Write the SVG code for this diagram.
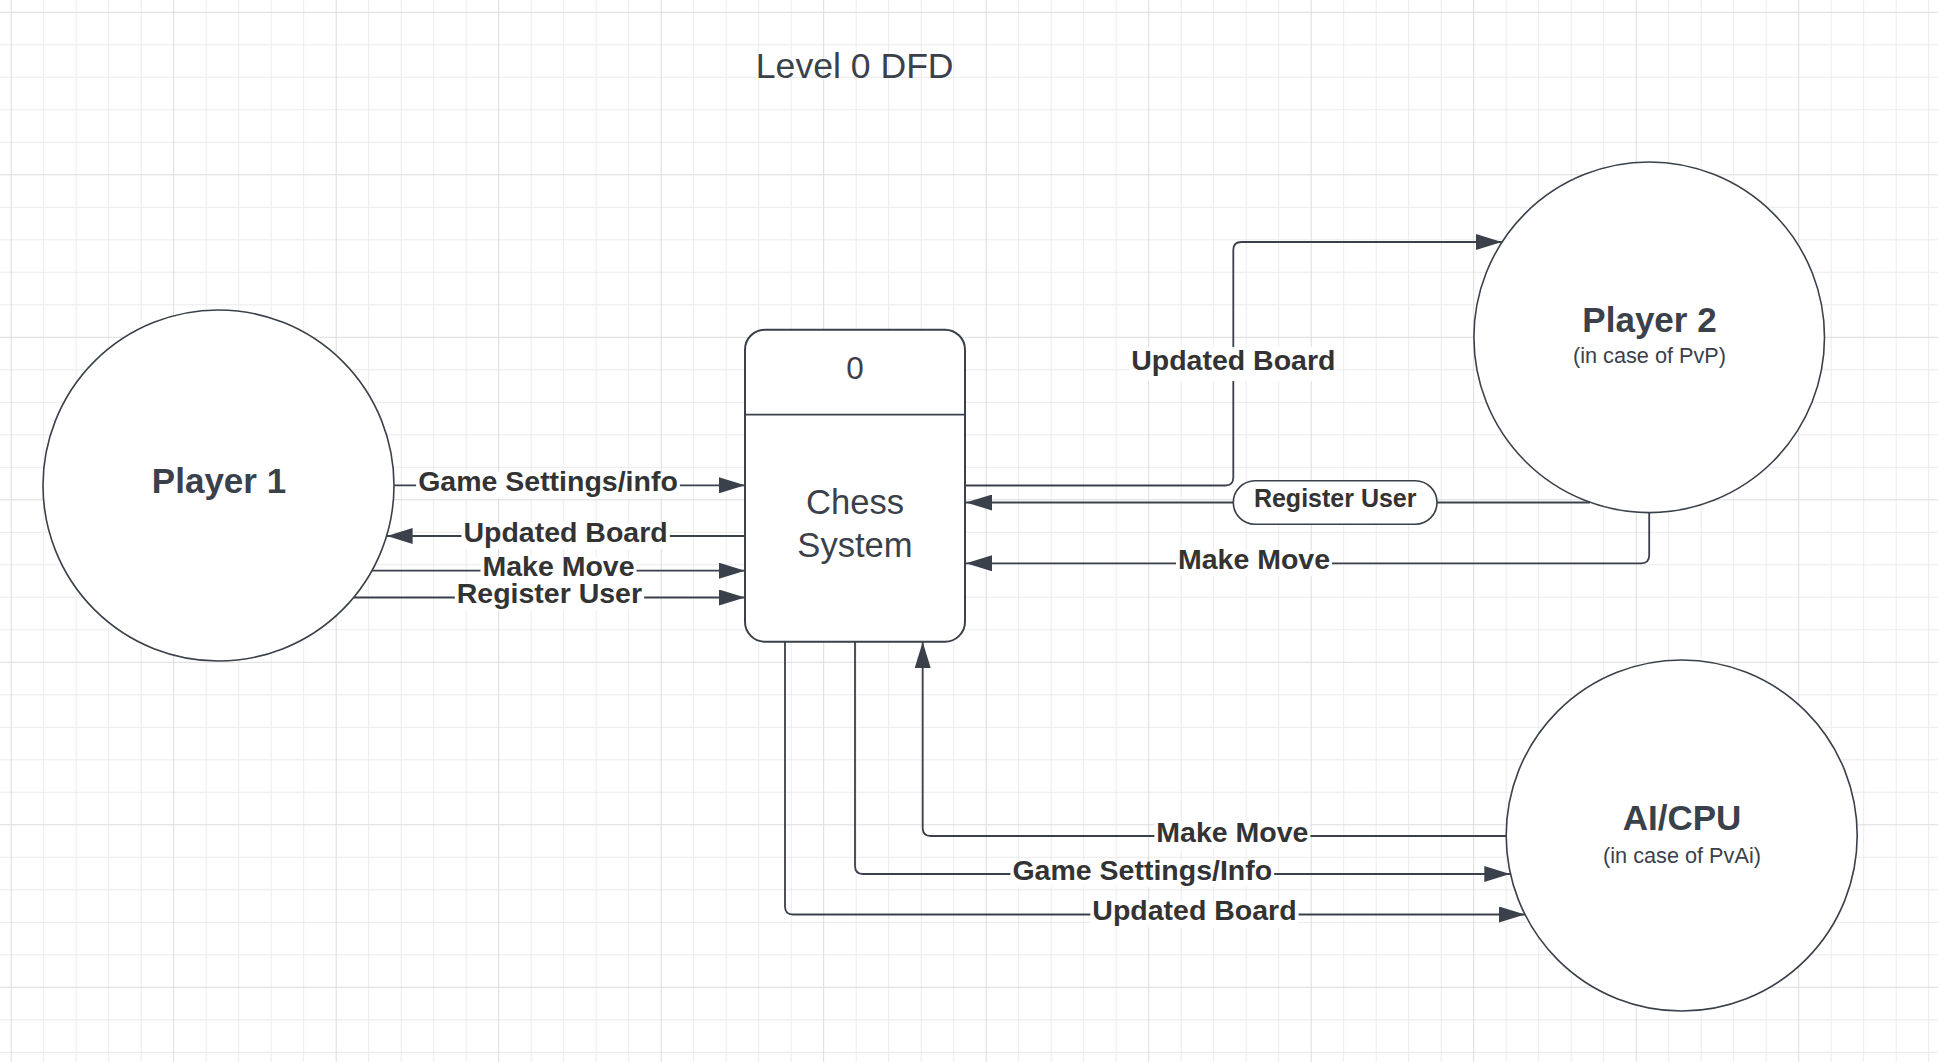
<svg xmlns="http://www.w3.org/2000/svg" width="1938" height="1062" viewBox="0 0 1938 1062">
<defs>
<style>
.minor{stroke:#ececec;stroke-width:1;fill:none}
.major{stroke:#dcdcdc;stroke-width:1;fill:none}
.node{fill:#ffffff;stroke:#3a414a;stroke-width:1.6}
.box{fill:#ffffff;stroke:#3a414a;stroke-width:2}
.conn{fill:none;stroke:#3a414a;stroke-width:1.8;marker-end:url(#arrow)}
.plain{fill:none;stroke:#3a414a;stroke-width:1.8}
.lblbg{fill:#ffffff}
.lbl{font-family:"Liberation Sans",Arial,sans-serif;font-weight:bold;font-size:28.5px;fill:#333333;text-anchor:middle}
.ntitle{font-family:"Liberation Sans",Arial,sans-serif;font-weight:bold;font-size:35px;fill:#3a414a;text-anchor:middle}
.nsub{font-family:"Liberation Sans",Arial,sans-serif;font-size:21.7px;fill:#3a414a;text-anchor:middle}
.ntext{font-family:"Liberation Sans",Arial,sans-serif;font-size:34.6px;fill:#3a414a;text-anchor:middle}
</style>
<marker id="arrow" markerUnits="userSpaceOnUse" markerWidth="26" markerHeight="16" refX="26" refY="8" orient="auto">
<path d="M0,0 L26,8 L0,16 Z" fill="#3a414a"/>
</marker>
</defs>
<rect x="0" y="0" width="1938" height="1062" fill="#ffffff"/>
<g id="grid">
<path class="minor" d="M43.7,0V1062M76.2,0V1062M108.7,0V1062M141.2,0V1062M206.2,0V1062M238.7,0V1062M271.2,0V1062M303.7,0V1062M368.7,0V1062M401.2,0V1062M433.7,0V1062M466.2,0V1062M531.2,0V1062M563.7,0V1062M596.2,0V1062M628.7,0V1062M693.7,0V1062M726.2,0V1062M758.7,0V1062M791.2,0V1062M856.2,0V1062M888.7,0V1062M921.2,0V1062M953.7,0V1062M1018.7,0V1062M1051.2,0V1062M1083.7,0V1062M1116.2,0V1062M1181.2,0V1062M1213.7,0V1062M1246.2,0V1062M1278.7,0V1062M1343.7,0V1062M1376.2,0V1062M1408.7,0V1062M1441.2,0V1062M1506.2,0V1062M1538.7,0V1062M1571.2,0V1062M1603.7,0V1062M1668.7,0V1062M1701.2,0V1062M1733.7,0V1062M1766.2,0V1062M1831.2,0V1062M1863.7,0V1062M1896.2,0V1062M1928.7,0V1062M0,44.8H1938M0,77.3H1938M0,109.8H1938M0,142.3H1938M0,207.3H1938M0,239.8H1938M0,272.3H1938M0,304.8H1938M0,369.8H1938M0,402.3H1938M0,434.8H1938M0,467.3H1938M0,532.3H1938M0,564.8H1938M0,597.3H1938M0,629.8H1938M0,694.8H1938M0,727.3H1938M0,759.8H1938M0,792.3H1938M0,857.3H1938M0,889.8H1938M0,922.3H1938M0,954.8H1938M0,1019.8H1938M0,1052.3H1938"/>
<path class="major" d="M11.2,0V1062M173.7,0V1062M336.2,0V1062M498.7,0V1062M661.2,0V1062M823.7,0V1062M986.2,0V1062M1148.7,0V1062M1311.2,0V1062M1473.7,0V1062M1636.2,0V1062M1798.7,0V1062M0,12.3H1938M0,174.8H1938M0,337.3H1938M0,499.8H1938M0,662.3H1938M0,824.8H1938M0,987.3H1938"/>
</g>
<g id="title">
<text x="854.7" y="77.5" font-family="Liberation Sans, Arial, sans-serif" font-size="35.6" fill="#3a414a" text-anchor="middle">Level 0 DFD</text>
</g>
<g id="connectors">
<path class="conn" d="M394.3,485.3H745"/>
<path class="conn" d="M745,536H386.6"/>
<path class="conn" d="M371.9,570.7H745"/>
<path class="conn" d="M353.6,597.5H745"/>
<path class="conn" d="M965,485.5H1225.3Q1233.3,485.5 1233.3,477.5V250Q1233.3,242 1241.3,242H1501.8"/>
<path class="conn" d="M1590,502.5H966"/>
<path class="conn" d="M1649.2,512.5V555.3Q1649.2,563.3 1641.2,563.3H966"/>
<path class="conn" d="M1506.2,836H930.7Q922.7,836 922.7,828V642"/>
<path class="conn" d="M855,641.7V866Q855,874 863,874H1510.3"/>
<path class="conn" d="M785,641.7V906.5Q785,914.5 793,914.5H1525"/>
<rect class="lblbg" x="416.1" y="472.3" width="263.8" height="26"/>
<text class="lbl" x="548" y="490.8">Game Settings/info</text>
<rect class="lblbg" x="461.5" y="523" width="208.3" height="26"/>
<text class="lbl" x="565.6" y="541.5">Updated Board</text>
<rect class="lblbg" x="480.5" y="557.7" width="156" height="26"/>
<text class="lbl" x="558.5" y="576">Make Move</text>
<rect class="lblbg" x="454.8" y="584.5" width="189.3" height="26"/>
<text class="lbl" x="549.4" y="603.2">Register User</text>
<rect class="lblbg" x="1129.2" y="347" width="208.3" height="34"/>
<text class="lbl" x="1233.3" y="369.5">Updated Board</text>
<rect x="1233.3" y="480.8" width="203.7" height="43.4" rx="21.7" ry="21.7" fill="#ffffff" stroke="#3a414a" stroke-width="1.6"/>
<text class="lbl" x="1335.2" y="507.3" style="font-size:25px">Register User</text>
<rect class="lblbg" x="1176" y="550.3" width="156" height="26"/>
<text class="lbl" x="1254" y="568.8">Make Move</text>
<rect class="lblbg" x="1154.4" y="823" width="156" height="26"/>
<text class="lbl" x="1232.4" y="841.5">Make Move</text>
<rect class="lblbg" x="1010.4" y="861" width="263.8" height="26"/>
<text class="lbl" x="1142.3" y="879.5">Game Settings/Info</text>
<rect class="lblbg" x="1090.3" y="901.5" width="208.3" height="26"/>
<text class="lbl" x="1194.5" y="920">Updated Board</text>
</g>
<g id="player1">
<circle class="node" cx="218.5" cy="485.5" r="175.5"/>
<text class="ntitle" x="219" y="493.3">Player 1</text>
</g>
<g id="chess-system">
<rect class="box" x="745" y="329.7" width="220" height="312" rx="20" ry="20"/>
<path class="plain" d="M745,414.7H965"/>
<text class="ntext" x="855" y="378.7" style="font-size:31.5px">0</text>
<text class="ntext" x="855" y="514">Chess</text>
<text class="ntext" x="855" y="557.3">System</text>
</g>
<g id="player2">
<circle class="node" cx="1649.2" cy="337.3" r="175.3"/>
<text class="ntitle" x="1649.5" y="332.3">Player 2</text>
<text class="nsub" x="1649.5" y="363.3">(in case of PvP)</text>
</g>
<g id="ai-cpu">
<circle class="node" cx="1681.7" cy="835.5" r="175.5"/>
<text class="ntitle" x="1682" y="830">AI/CPU</text>
<text class="nsub" x="1682" y="862.5">(in case of PvAi)</text>
</g>
</svg>
